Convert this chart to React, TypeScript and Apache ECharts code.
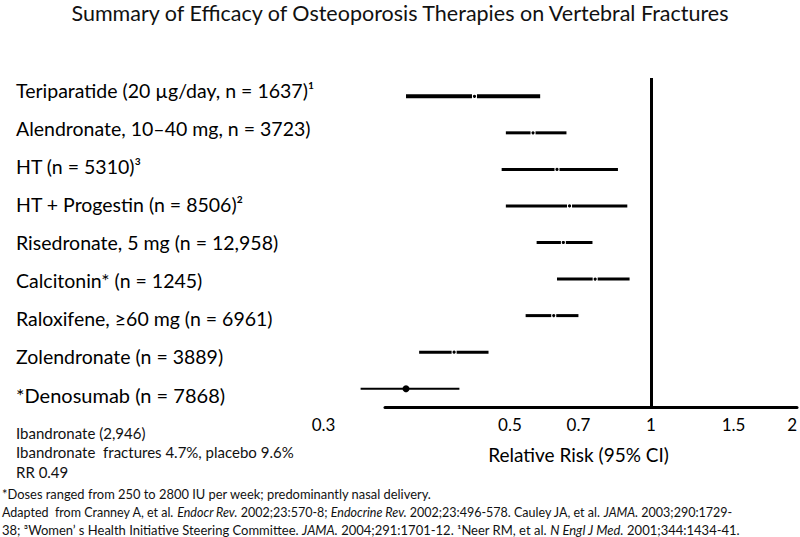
import React, { useEffect, useRef } from 'react';
import * as echarts from 'echarts';

// ---- data ----
const therapies = [
  'Teriparatide (20 µg/day, n = 1637)¹',
  'Alendronate, 10–40 mg, n = 3723)',
  'HT (n = 5310)³',
  'HT + Progestin (n = 8506)²',
  'Risedronate, 5 mg (n = 12,958)',
  'Calcitonin* (n = 1245)',
  'Raloxifene, ≥60 mg (n = 6961)',
  'Zolendronate (n = 3889)',
  '*Denosumab (n = 7868)',
];
const relativeRisk = [0.42, 0.56, 0.63, 0.67, 0.65, 0.76, 0.62, 0.38, 0.30];
const ciLow = [0.30, 0.49, 0.48, 0.49, 0.57, 0.63, 0.54, 0.32, 0.24];
const ciHigh = [0.58, 0.66, 0.85, 0.89, 0.75, 0.90, 0.70, 0.45, 0.39];
// tick positions on the log axis and the text printed under them (as in the source slide)
const tickValues = [0.2, 0.5, 0.7, 1, 1.5, 2];
const tickLabels = ['0.3', '0.5', '0.7', '1', '1.5', '2'];
const refValue = 1;

const titleText = 'Summary of Efficacy of Osteoporosis Therapies on Vertebral Fractures';
const axisTitle = 'Relative Risk (95% CI)';
const noteLines = [
  'Ibandronate (2,946)',
  'Ibandronate  fractures 4.7%, placebo 9.6%',
  'RR 0.49',
];

const FONT = 'Lato, "Open Sans", sans-serif';

export default function App() {
  const ref = useRef<HTMLDivElement>(null);

  useEffect(() => {
    if (!ref.current) return;
    const chart = echarts.init(ref.current, undefined, { renderer: 'svg' });

    const data = therapies.map((_, i) => [i, ciLow[i], relativeRisk[i], ciHigh[i]]);

    const option: any = {
      animation: false,
      backgroundColor: '#fff',
      textStyle: { fontFamily: FONT, color: '#000' },
      title: {
        text: titleText,
        left: 'center',
        top: 2,
        padding: 0,
        textStyle: { fontFamily: FONT, fontSize: 21.5, fontWeight: 'normal', color: '#111' },
      },
      grid: [
        { left: 323.5, right: 3, top: 78, bottom: 130 },
        { left: 330, width: 10, top: 71, bottom: 123 },
        { left: 385, right: 3, top: 78, bottom: 130 },
      ],
      xAxis: [
        {
          type: 'log',
          gridIndex: 0,
          min: 0.2,
          max: 2.035,
          axisLine: { show: false },
          axisTick: { show: false },
          splitLine: { show: false },
          axisLabel: {
            customValues: tickValues,
            formatter: (v: number) => {
              const k = tickValues.findIndex((t) => Math.abs(t - v) < 1e-6);
              return k >= 0 ? tickLabels[k] : '';
            },
            margin: 9,
            fontSize: 17,
            color: '#000',
            fontFamily: FONT,
          },
          name: axisTitle,
          nameLocation: 'middle',
          nameGap: 38,
          nameTextStyle: { fontSize: 19, color: '#000', fontFamily: FONT, padding: [0, 0, 0, 38] },
        },
        { type: 'value', gridIndex: 1, show: false },
        {
          type: 'value',
          gridIndex: 2,
          axisLine: { show: true, lineStyle: { color: '#000', width: 3 } },
          axisTick: { show: false },
          axisLabel: { show: false },
          splitLine: { show: false },
        },
      ],
      yAxis: [
        {
          type: 'category',
          gridIndex: 0,
          inverse: true,
          data: therapies,
          show: false,
        },
        {
          type: 'category',
          gridIndex: 1,
          inverse: true,
          data: therapies,
          axisLine: { show: false },
          axisTick: { show: false },
          splitLine: { show: false },
          axisLabel: {
            align: 'left',
            margin: 314,
            fontSize: 19.5,
            color: '#000',
            fontFamily: FONT,
            formatter: (v: string, i: number) => (i === therapies.length - 1 ? '{d|' + v + '}' : v),
            rich: { d: { fontSize: 20, fontFamily: FONT, color: '#000' } },
          },
        },
        { type: 'value', gridIndex: 2, show: false },
      ],
      series: [
        {
          type: 'custom',
          xAxisIndex: 0,
          yAxisIndex: 0,
          encode: { x: [1, 2, 3], y: 0 },
          data,
          silent: true,
          renderItem: (params: any, api: any) => {
            const i = api.value(0);
            const lo = api.coord([api.value(1), i]);
            const pt = api.coord([api.value(2), i]);
            const hi = api.coord([api.value(3), i]);
            const idx = params.dataIndex;
            const last = idx === therapies.length - 1;
            const w = idx === 0 ? 4 : last ? 2 : 3;
            const gap = last ? 0 : 2.5;
            const r = last ? 3.5 : 1.6;
            return {
              type: 'group',
              children: [
                {
                  type: 'line',
                  shape: { x1: lo[0], y1: lo[1], x2: pt[0] - gap, y2: pt[1] },
                  style: { stroke: '#000', lineWidth: w },
                },
                {
                  type: 'line',
                  shape: { x1: pt[0] + gap, y1: pt[1], x2: hi[0], y2: hi[1] },
                  style: { stroke: '#000', lineWidth: w },
                },
                {
                  type: 'circle',
                  shape: { cx: pt[0], cy: pt[1], r },
                  style: { fill: '#000' },
                },
              ],
            };
          },
        },
        {
          type: 'line',
          xAxisIndex: 0,
          yAxisIndex: 0,
          data: [],
          silent: true,
          markLine: {
            silent: true,
            symbol: 'none',
            label: { show: false },
            lineStyle: { color: '#000', width: 3, type: 'solid' },
            data: [{ xAxis: refValue }],
          },
        },
      ],
      graphic: [
        ...noteLines.map((t, k) => ({
          type: 'text',
          left: 16,
          top: 425 + k * 19.5,
          style: { text: t, fontSize: 15, fontFamily: FONT, fill: '#111' },
        })),
        {
          type: 'text',
          left: 2,
          top: 487,
          style: {
            text: '*Doses ranged from 250 to 2800 IU per week; predominantly nasal delivery.',
            fontSize: 12.9,
            fontFamily: FONT,
            fill: '#111',
          },
        },
        {
          type: 'text',
          left: 2,
          top: 506,
          style: {
            text:
              'Adapted  from Cranney A, et al. {i|Endocr Rev.} 2002;23:570-8; {i|Endocrine Rev.} 2002;23:496-578. Cauley JA, et al. {i|JAMA.} 2003;290:1729-',
            fontSize: 12.5,
            fontFamily: FONT,
            fill: '#111',
            rich: { i: { fontStyle: 'italic', fontSize: 12.5, fontFamily: FONT, fill: '#111' } },
          },
        },
        {
          type: 'text',
          left: 2,
          top: 523,
          style: {
            text:
              '38; ³Women’ s Health Initiative Steering Committee. {i|JAMA.} 2004;291:1701-12. ¹Neer RM, et al. {i|N Engl J Med.} 2001;344:1434-41.',
            fontSize: 13,
            fontFamily: FONT,
            fill: '#111',
            rich: { i: { fontStyle: 'italic', fontSize: 13, fontFamily: FONT, fill: '#111' } },
          },
        },
      ],
    };

    chart.setOption(option);
    return () => chart.dispose();
  }, []);

  return (
    <div
      ref={ref}
      style={{ position: 'fixed', left: 0, top: 0, width: 800, height: 537, background: '#fff' }}
    />
  );
}
